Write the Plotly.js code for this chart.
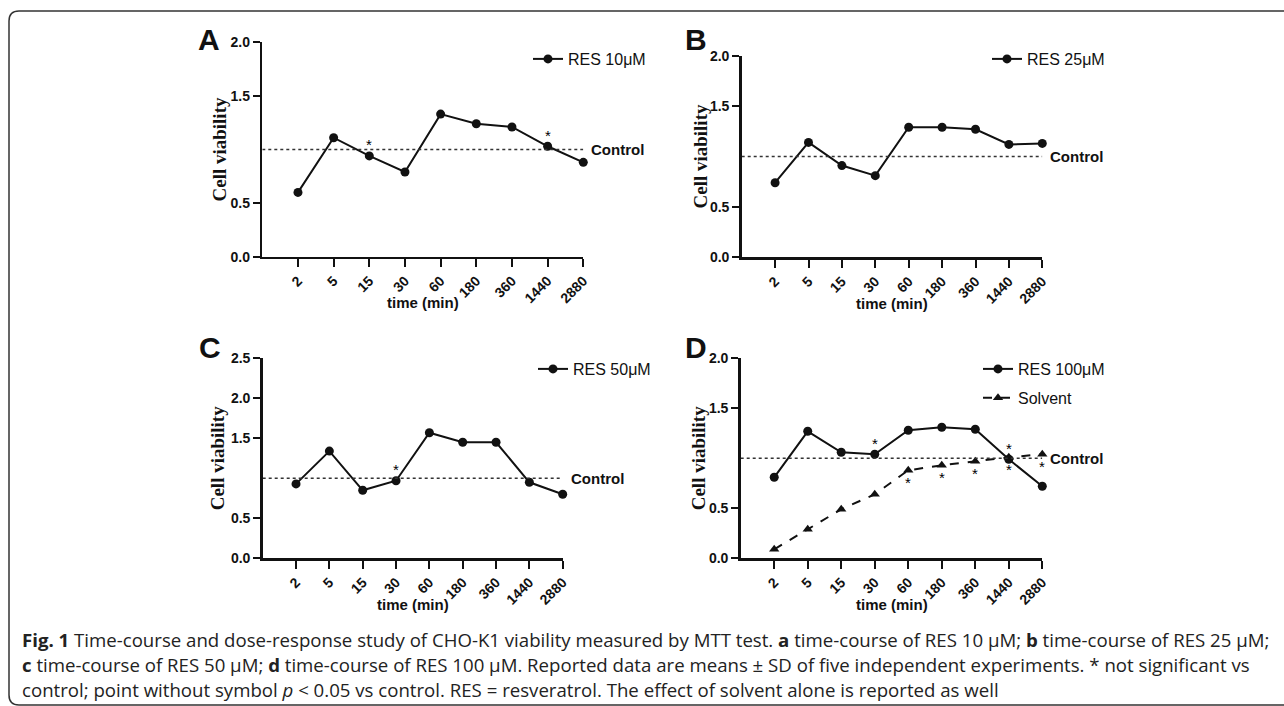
<!DOCTYPE html>
<html>
<head>
<meta charset="utf-8">
<script src="https://cdn.plot.ly/plotly-3.0.1.min.js"></script>
<style>
  html, body { margin: 0; padding: 0; background: #fff; }
  #chart { width: 1284px; height: 706px; }
</style>
</head>
<body>
<div id="chart"></div>
<script>
// ---------- data ----------
const times = ['2', '5', '15', '30', '60', '180', '360', '1440', '2880'];
const res10 = [0.60, 1.11, 0.94, 0.79, 1.33, 1.24, 1.21, 1.03, 0.88];
const res25 = [0.74, 1.14, 0.91, 0.81, 1.29, 1.29, 1.27, 1.12, 1.13];
const res50 = [0.93, 1.34, 0.85, 0.97, 1.57, 1.45, 1.45, 0.95, 0.80];
const res100 = [0.81, 1.27, 1.06, 1.04, 1.28, 1.31, 1.29, 0.99, 0.72];
const solvent = [0.09, 0.29, 0.49, 0.64, 0.88, 0.93, 0.97, 1.01, 1.04];
const controlValue = 1.0;
// '*' = not significant vs control
const starsA = ['15', '1440'];
const starsC = ['30'];
const starsD = ['30', '1440'];
const starsSolvent = ['60', '180', '360', '1440', '2880'];
const yTicks2 = [0, 0.5, 1.5, 2.0];
const yTicks25 = [0, 0.5, 1.5, 2.0, 2.5];

// ---------- helpers ----------
const W = 1284, H = 706;
const px = v => v / W;
const py = v => 1 - v / H;
const INK = '#111';
const SANS = 'Arial, "Liberation Sans", Helvetica, sans-serif';
const SERIF = '"Times New Roman", "Liberation Serif", serif';
const CAPFONT = '"Open Sans", "Noto Sans", sans-serif';

function xAxis(dom, anchor) {
  return {
    domain: [px(dom[0]), px(dom[1])], anchor: anchor, type: 'category',
    range: [-1, times.length - 1], showline: true, linewidth: 2.5, linecolor: INK,
    ticks: 'outside', ticklen: 8, tickwidth: 2, tickcolor: INK, tickangle: -45,
    tickfont: { family: SANS, size: 14, color: INK, weight: 'bold' },
    showgrid: false, zeroline: false, fixedrange: true
  };
}
function yAxis(dom, anchor, top, tv) {
  return {
    domain: [py(dom[1]), py(dom[0])], anchor: anchor, range: [0, top],
    tickvals: tv, ticktext: tv.map(v => v.toFixed(1)),
    showline: true, linewidth: 2.5, linecolor: INK,
    ticks: 'outside', ticklen: 7, tickwidth: 2, tickcolor: INK,
    tickfont: { family: SANS, size: 14, color: INK, weight: 'bold' },
    showgrid: false, zeroline: false, fixedrange: true
  };
}
function lineTrace(y, name, xa, ya, leg, opts) {
  opts = opts || {};
  return {
    x: times, y: y, name: name, xaxis: xa, yaxis: ya, legend: leg,
    legendgroup: name, type: 'scatter', mode: 'lines+markers',
    line: { color: INK, width: 2, dash: opts.dash || 'solid' },
    marker: { color: INK, size: opts.size || 9, symbol: opts.symbol || 'circle' },
    cliponaxis: false
  };
}

const traces = [
  lineTrace(res10, 'RES 10μM', 'x', 'y', 'legend'),
  lineTrace(res25, 'RES 25μM', 'x2', 'y2', 'legend2'),
  lineTrace(res50, 'RES 50μM', 'x3', 'y3', 'legend3'),
  lineTrace(res100, 'RES 100μM', 'x4', 'y4', 'legend4'),
  lineTrace(solvent, 'Solvent', 'x4', 'y4', 'legend4', { dash: 'dash', symbol: 'triangle-up', size: 9 })
];

const panels = [
  { xa: 'x', ya: 'y', xd: [262.3, 583.3], yd: [42.3, 256.7], letter: 'A', lx: 209, ly: 39, ytx: 219 },
  { xa: 'x2', ya: 'y2', xd: [741.7, 1042.3], yd: [55.7, 257.3], letter: 'B', lx: 696, ly: 39, ytx: 700 },
  { xa: 'x3', ya: 'y3', xd: [262.7, 562.7], yd: [358.3, 558.3], letter: 'C', lx: 210, ly: 347, ytx: 217 },
  { xa: 'x4', ya: 'y4', xd: [740.7, 1042.3], yd: [358.3, 558.3], letter: 'D', lx: 696, ly: 347, ytx: 698 }
];

const annotations = [];
const shapes = [];
const lastIdx = times.length - 1;
panels.forEach(p => {
  annotations.push({ xref: 'paper', yref: 'paper', x: px(p.lx), y: py(p.ly), text: p.letter,
    showarrow: false, xanchor: 'center', yanchor: 'middle',
    font: { family: SANS, size: 30, color: INK, weight: 'bold' } });
  annotations.push({ xref: 'paper', yref: 'paper', x: px(p.ytx), y: py((p.yd[0] + p.yd[1]) / 2),
    text: 'Cell viability', textangle: -90, showarrow: false, xanchor: 'center', yanchor: 'middle',
    font: { family: SERIF, size: 19, color: INK, weight: 'bold' } });
  annotations.push({ xref: 'paper', yref: 'paper', x: px((p.xd[0] + p.xd[1]) / 2), y: py(p.yd[1] + 46),
    text: 'time (min)', showarrow: false, xanchor: 'center', yanchor: 'middle',
    font: { family: SANS, size: 15, color: INK, weight: 'bold' } });
  shapes.push({ type: 'line', xref: p.xa, yref: p.ya, x0: -1, x1: lastIdx,
    y0: controlValue, y1: controlValue, line: { color: '#333', width: 1.5, dash: 'dot' } });
  annotations.push({ xref: p.xa, yref: p.ya, x: lastIdx, y: controlValue,
    text: 'Control', showarrow: false, xanchor: 'left', yanchor: 'middle', xshift: 6,
    font: { family: SANS, size: 15, color: INK, weight: 'bold' } });
});

function star(xa, ya, cat, series, shift) {
  const i = times.indexOf(cat);
  annotations.push({ xref: xa, yref: ya, x: i, y: series[i], text: '*',
    showarrow: false, xanchor: 'center', yanchor: 'middle', yshift: shift,
    font: { family: SANS, size: 15, color: '#000' } });
}
starsA.forEach(c => star('x', 'y', c, res10, 11));
starsC.forEach(c => star('x3', 'y3', c, res50, 11));
starsD.forEach(c => star('x4', 'y4', c, res100, 11));
starsSolvent.forEach(c => star('x4', 'y4', c, solvent, -12));

// caption
const captionLines = [
  '<b>Fig. 1</b> Time-course and dose-response study of CHO-K1 viability measured by MTT test. <b>a</b> time-course of RES 10 μM; <b>b</b> time-course of RES 25 μM;',
  '<b>c</b> time-course of RES 50 μM; <b>d</b> time-course of RES 100 μM. Reported data are means ± SD of five independent experiments. * not significant vs',
  'control; point without symbol <i>p</i> &lt; 0.05 vs control. RES = resveratrol. The effect of solvent alone is reported as well'
];
const captionY = [639, 664, 689];
const captionStart = annotations.length;
captionLines.forEach((t, i) => {
  annotations.push({ xref: 'paper', yref: 'paper', x: px(20), y: py(captionY[i]), text: t,
    showarrow: false, xanchor: 'left', yanchor: 'middle', align: 'left',
    font: { family: CAPFONT, size: 15, color: '#222' } });
});

// figure frame
const fx0 = 9, fy0 = 11, fy1 = 705, r = 10;
shapes.push({ type: 'path', xref: 'paper', yref: 'paper', layer: 'below',
  path: `M ${px(1300)},${py(fy0)} L ${px(fx0 + r)},${py(fy0)} Q ${px(fx0)},${py(fy0)} ${px(fx0)},${py(fy0 + r)} ` +
        `L ${px(fx0)},${py(fy1 - r)} Q ${px(fx0)},${py(fy1)} ${px(fx0 + r)},${py(fy1)} L ${px(1300)},${py(fy1)}`,
  line: { color: '#333', width: 1.5 } });

function legendAt(x, top) {
  return { x: px(x), y: py(top), xanchor: 'left', yanchor: 'top', bgcolor: 'rgba(0,0,0,0)',
    borderwidth: 0, itemwidth: 30, tracegroupgap: 5,
    font: { family: SANS, size: 16, color: INK } };
}

const layout = {
  width: W, height: H, margin: { l: 0, r: 0, t: 0, b: 0 },
  paper_bgcolor: '#fff', plot_bgcolor: 'rgba(0,0,0,0)', showlegend: true,
  xaxis: xAxis(panels[0].xd, 'y'), yaxis: yAxis(panels[0].yd, 'x', 2, yTicks2),
  xaxis2: xAxis(panels[1].xd, 'y2'), yaxis2: yAxis(panels[1].yd, 'x2', 2, yTicks2),
  xaxis3: xAxis(panels[2].xd, 'y3'), yaxis3: yAxis(panels[2].yd, 'x3', 2.5, yTicks25),
  xaxis4: xAxis(panels[3].xd, 'y4'), yaxis4: yAxis(panels[3].yd, 'x4', 2, yTicks2),
  legend: legendAt(528, 42),
  legend2: legendAt(987, 42),
  legend3: legendAt(533, 352),
  legend4: legendAt(978, 352),
  annotations: annotations, shapes: shapes
};

Plotly.newPlot('chart', traces, layout, { staticPlot: true, displayModeBar: false }).then(gd => {
  // fit the first caption line to span the figure width (x 20 -> 1268)
  const nodes = gd.querySelectorAll('.annotation');
  const first = nodes[captionStart];
  if (!first) return;
  const t = first.querySelector('text');
  const w = t ? t.getBBox().width : 0;
  if (w > 0) {
    const size = 15 * (1248 / w);
    const upd = {};
    for (let k = 0; k < captionLines.length; k++) upd[`annotations[${captionStart + k}].font.size`] = size;
    Plotly.relayout(gd, upd);
  }
});
</script>
</body>
</html>
